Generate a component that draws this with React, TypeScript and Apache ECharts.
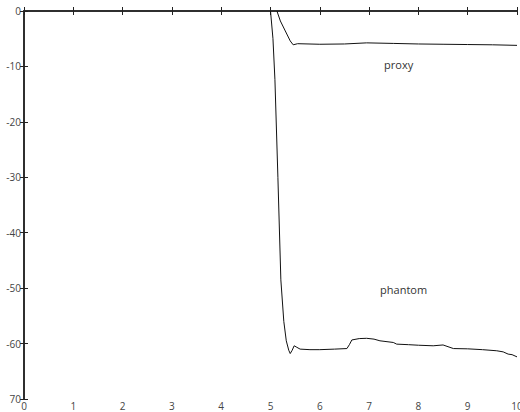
import React, { useEffect, useRef } from "react";
import * as echarts from "echarts";

const xTicks = [0, 1, 2, 3, 4, 5, 6, 7, 8, 9, 10];
const yTickLabels: Record<string, string> = {
  "0": "0", "-10": "-10", "-20": "-20", "-30": "-30", "-40": "-40",
  "-50": "-50", "-60": "-60", "-70": "70",
};

const proxyX = [5.13, 5.2, 5.3, 5.4, 5.46, 5.55, 6.0, 6.5, 6.95, 7.5, 8.0, 8.5, 9.0, 9.5, 10.0];
const proxyY = [0, -1.8, -3.6, -5.4, -6.1, -5.9, -6.0, -5.95, -5.75, -5.85, -5.95, -6.0, -6.05, -6.1, -6.2];

const phantomX = [5.0, 5.05, 5.09, 5.15, 5.21, 5.27, 5.32, 5.37, 5.4, 5.44, 5.48, 5.52, 5.6, 5.8, 6.0, 6.3, 6.55, 6.6, 6.65, 6.8, 6.95, 7.1, 7.22, 7.49, 7.56, 7.8, 8.0, 8.3, 8.5, 8.71, 9.0, 9.3, 9.59, 9.72, 9.82, 9.9, 10.0];
const phantomY = [0, -5, -12.4, -30, -48.5, -56, -59.5, -61.2, -61.8, -61.2, -60.4, -60.6, -61.0, -61.1, -61.1, -61.0, -60.9, -60.2, -59.35, -59.1, -59.05, -59.2, -59.5, -59.8, -60.1, -60.2, -60.3, -60.4, -60.25, -60.9, -60.95, -61.1, -61.3, -61.5, -61.9, -62.0, -62.4];

const labels = [
  { name: "proxy", x: 7.6, y: -9.6 },
  { name: "phantom", x: 7.7, y: -50.3 },
];

const zip = (xs: number[], ys: number[]) => xs.map((x, i) => [x, ys[i]]);

export default function App() {
  const ref = useRef<HTMLDivElement>(null);
  useEffect(() => {
    if (!ref.current) return;
    const chart = echarts.init(ref.current, undefined, { renderer: "svg" });
    const font = "Open Sans";
    const axisLine = { show: true, lineStyle: { color: "#222", width: 1.5 } };
    const axisTick = { show: true, inside: true, length: 4, lineStyle: { color: "#222", width: 1 } };
    chart.setOption({
      animation: false,
      backgroundColor: "#fff",
      grid: { left: 24, top: 11, right: 3, bottom: 13, containLabel: false, outerBoundsMode: "none" },
      xAxis: [
        {
          type: "value", min: 0, max: 10, interval: 1, position: "bottom",
          axisLine, axisTick, splitLine: { show: false },
          axisLabel: { color: "#444", fontSize: 10, fontFamily: font, margin: 2, showMaxLabel: true,
            formatter: (v: number) => (xTicks.includes(v) ? String(v) : "") },
        },
        {
          type: "value", min: 0, max: 10, interval: 1, position: "top",
          axisLine, axisTick, splitLine: { show: false }, axisLabel: { show: false },
        },
      ],
      yAxis: [
        {
          type: "value", min: -70, max: 0, interval: 10, position: "left",
          axisLine, axisTick, splitLine: { show: false },
          axisLabel: { color: "#444", fontSize: 10, fontFamily: font, margin: 3,
            formatter: (v: number) => yTickLabels[String(v)] ?? "" },
        },
        {
          type: "value", min: -70, max: 0, interval: 10, position: "right",
          axisLine, axisTick, splitLine: { show: false }, axisLabel: { show: false },
        },
      ],
      series: [
        {
          type: "line", name: "proxy", data: zip(proxyX, proxyY), showSymbol: false, symbol: "none",
          lineStyle: { color: "#111", width: 1 }, clip: false,
        },
        {
          type: "line", name: "phantom", data: zip(phantomX, phantomY), showSymbol: false, symbol: "none",
          lineStyle: { color: "#111", width: 1 }, clip: false,
          markPoint: {
            symbol: "circle", symbolSize: 0,
            label: { show: true, position: "inside", color: "#333", fontSize: 11, fontFamily: font,
              formatter: (p: any) => p.name },
            data: labels.map((l) => ({ name: l.name, coord: [l.x, l.y] })),
          },
        },
      ],
    });
    return () => chart.dispose();
  }, []);
  return <div ref={ref} style={{ position: "fixed", left: 0, top: 0, width: 520, height: 412 }} />;
}
